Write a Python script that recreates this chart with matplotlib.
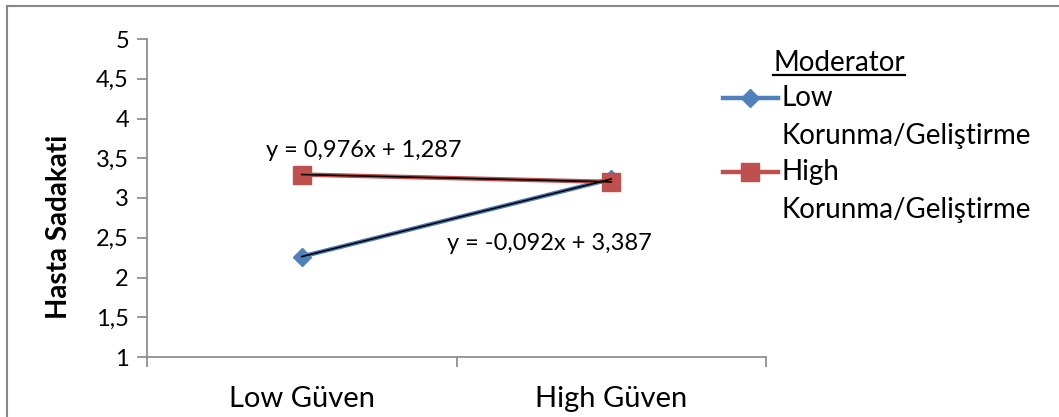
import matplotlib.pyplot as plt
import numpy as np
from matplotlib.lines import Line2D

plt.rcParams['font.family'] = ['Lato', 'DejaVu Sans']

categories = ['Low Güven', 'High Güven']
low_mod = [2.263, 3.239]
high_mod = [3.295, 3.203]
series_names = ['Low\nKorunma/Geliştirme', 'High\nKorunma/Geliştirme']
yticks = [1, 1.5, 2, 2.5, 3, 3.5, 4, 4.5, 5]

W, H = 1059, 417
fig = plt.figure(figsize=(W / 100, H / 100), dpi=100)
ax = fig.add_axes([147 / W, 1 - 357 / H, 619 / W, 318 / H])

grey = '#868686'
blue = '#4F81BD'
red = '#C0504D'

x = np.arange(len(categories))
ax.plot(x, low_mod, color=blue, lw=3.2, marker='D', ms=9, zorder=3)
ax.plot(x, high_mod, color=red, lw=3.2, marker='s', ms=13, zorder=3)

# linear trendlines, x counted 1..n like a spreadsheet
xn = x + 1
fit_low = np.polyfit(xn, low_mod, 1)
fit_high = np.polyfit(xn, high_mod, 1)
ax.plot(x, np.polyval(fit_low, xn), color='black', lw=1.2, zorder=4)
ax.plot(x, np.polyval(fit_high, xn), color='black', lw=1.2, zorder=4)


def eq(fit):
    s = 'y = {:.3f}x + {:.3f}'.format(fit[0], fit[1])
    return s.replace('.', ',')


ax.text(0.2, 3.6, eq(fit_low), ha='center', va='center', fontsize=17)
ax.text(0.8, 2.43, eq(fit_high), ha='center', va='center', fontsize=17)

ax.set_xlim(-0.5, 1.5)
ax.set_ylim(1, 5)
ax.set_yticks(yticks)
ax.set_yticklabels([('%g' % v).replace('.', ',') for v in yticks], fontsize=17)
ax.set_xticks([-0.5, 0.5, 1.5])
ax.set_xticklabels([])
ax.set_xticks(x, minor=True)
ax.set_xticklabels(categories, minor=True, fontsize=21)
ax.tick_params(axis='x', which='minor', length=0, pad=21)
ax.tick_params(axis='x', which='major', length=7, color=grey, width=1.2)
ax.tick_params(axis='y', length=7, color=grey, width=1.2, pad=6)
for side in ['top', 'right']:
    ax.spines[side].set_visible(False)
for side in ['left', 'bottom']:
    ax.spines[side].set_color(grey)
    ax.spines[side].set_linewidth(1.2)
ax.set_ylabel('Hasta Sadakati', fontsize=20, fontweight='bold')
ax.yaxis.set_label_coords(-0.121, 0.41)


def fx(px):
    return px / W


def fy(py):
    return 1 - py / H


# legend drawn by hand
title = fig.text(fx(773), fy(63), 'Moderator', fontsize=20, va='center')
fig.canvas.draw()
bb = title.get_window_extent().transformed(fig.transFigure.inverted())
fig.add_artist(Line2D([bb.x0, bb.x1], [fy(75), fy(75)], color='black', lw=1.6))
for ypos, color, mk, ms, name in [(98, blue, 'D', 9, series_names[0]),
                                  (172, red, 's', 13, series_names[1])]:
    fig.add_artist(Line2D([fx(723), fx(778)], [fy(ypos), fy(ypos)], color=color, lw=3.2))
    fig.add_artist(Line2D([fx(750)], [fy(ypos)], color=color, marker=mk, ms=ms))
    first, second = name.split('\n')
    fig.text(fx(782), fy(ypos), first, fontsize=20, va='center')
    fig.text(fx(782), fy(ypos + 38), second, fontsize=20, va='center')

# chart border
fig.add_artist(Line2D([fx(7), fx(1058)], [fy(6), fy(6)], color=grey, lw=1.5))
fig.add_artist(Line2D([fx(7), fx(7)], [fy(6), fy(417)], color=grey, lw=1.5))

fig.savefig('out.png', dpi=100)
